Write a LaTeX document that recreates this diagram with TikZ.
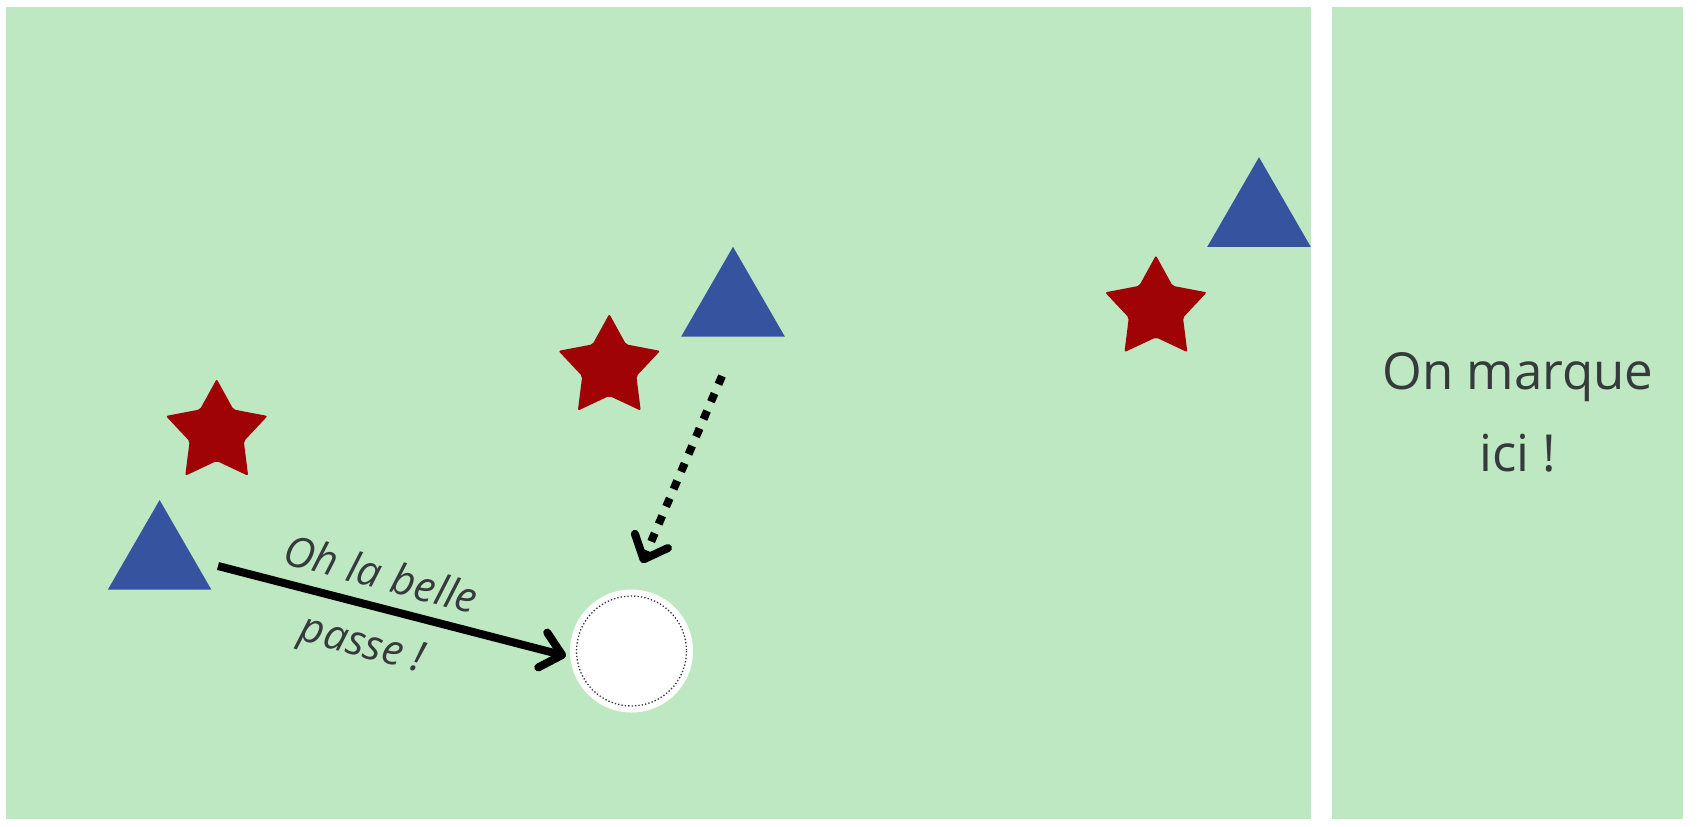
\documentclass[tikz,border=0pt]{standalone}
\usepackage{fontspec}
\setmainfont{Open Sans}
\usetikzlibrary{arrows.meta,shapes.geometric}
\definecolor{field}{RGB}{190,232,194}
\definecolor{teamblue}{RGB}{54,83,160}
\definecolor{teamred}{RGB}{160,3,6}
\definecolor{ink}{RGB}{55,58,60}
\definecolor{dotink}{RGB}{50,50,75}
\tikzset{
  pics/redstar/.style={code={
    \fill[teamred, rounded corners=2pt] (-90:53.5) -- (-54:28.5) -- (-18:53.5) -- (18:28.5) -- (54:53.5) -- (90:28.5) -- (126:53.5) -- (162:28.5) -- (198:53.5) -- (234:28.5) -- cycle;
  }}
}
\begin{document}
\begin{tikzpicture}[x=1pt,y=-1pt,
  fieldzone/.style={fill=field},
  tri/.style={regular polygon, regular polygon sides=3, minimum size=119.6pt, inner sep=0pt, outer sep=0pt, fill=teamblue},
  ballnode/.style={circle, minimum size=123pt, inner sep=0pt, fill=white},
  balldots/.style={draw=dotink, line width=1.3pt, dash pattern=on 1.3pt off 2.1pt},
  passarrow/.style={line width=8pt, -{Straight Barb[length=20pt,width=36pt,round]}},
  runarrow/.style={passarrow, dash pattern=on 9pt off 10pt},
  lbl/.style={text=ink, align=center, inner sep=0pt}
]
\useasboundingbox (0,0) rectangle (1697,827);
\fill[white] (0,0) rectangle (1697,827);
\fill[fieldzone] (6,7) rectangle (1311,819);
\fill[fieldzone] (1332,7) rectangle (1683,819);

% players
\node[tri] (t1) at (159.6,559.8) {};
\node[tri] (t2) at (733,306.6) {};
\node[tri] (t3) at (1259,217) {};
\pic (s1) at (216.7,432.5) {redstar};
\pic (s2) at (609.3,367.4) {redstar};
\pic (s3) at (1155.9,308.9) {redstar};

% ball
\node[ballnode] (ball) at (631.5,651) {};
\draw[balldots] (ball.center) circle (55);

% pass
\coordinate (p1) at (218,566);
\coordinate (p1e) at (566,656);
\draw[passarrow] (p1) -- (p1e);
\node[lbl, rotate=-15, font=\fontsize{42}{70}\selectfont\itshape] (passlbl) at (371,612) {Oh la belle\\passe !};

% run
\coordinate (r1) at (722,376);
\coordinate (r1e) at (642,563);
\draw[runarrow] (r1) -- (r1e);

% goal text
\node[lbl, font=\fontsize{51}{82}\selectfont] (goal) at (1518,412) {On marque\\ici !};
\end{tikzpicture}
\end{document}
